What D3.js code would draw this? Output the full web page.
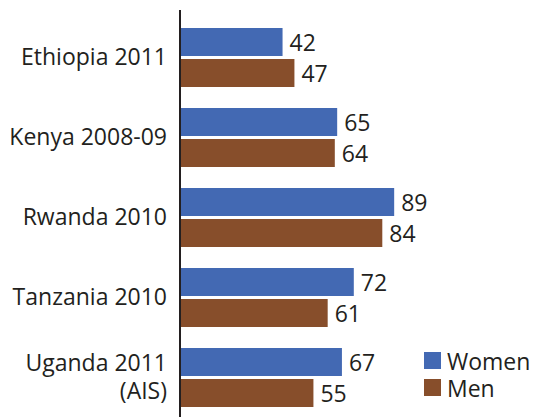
<!DOCTYPE html>
<html><head><meta charset="utf-8">
<script src="https://cdn.jsdelivr.net/npm/d3@7"></script>
<style>body{margin:0;background:#fff}svg{display:block}</style>
</head><body>
<script>
const categories = [["Ethiopia 2011"],["Kenya 2008-09"],["Rwanda 2010"],["Tanzania 2010"],["Uganda 2011","(AIS)"]];
const women = [42, 65, 89, 72, 67];
const men = [47, 64, 84, 61, 55];
const seriesNames = ["Women", "Men"];
const colors = ["#4369b3", "#874e2b"];

const W = 536, H = 417;
const svg = d3.select("body").append("svg").attr("width", W).attr("height", H);
const font = "'Open Sans', sans-serif";
const fs = 23;

const x = d3.scaleLinear().domain([0, 100]).range([182.8, 420.3]);
const y = d3.scaleBand().domain(d3.range(categories.length)).range([26, 426]).paddingInner(0).paddingOuter(0);
const barH = 28, gap = 3, x0 = 181;

const series = [women, men];
series.forEach((vals, s) => {
  svg.selectAll(".bar" + s).data(vals).enter().append("rect")
    .attr("x", x0)
    .attr("y", (d, i) => y(i) + 2 + s * (barH + gap))
    .attr("width", d => x(d) - x0)
    .attr("height", barH)
    .attr("fill", colors[s]);
  svg.selectAll(".lab" + s).data(vals).enter().append("text")
    .attr("x", d => x(d) + 7)
    .attr("y", (d, i) => y(i) + 2 + s * (barH + gap) + barH / 2 + 8.5)
    .attr("font-family", font).attr("font-size", fs).attr("fill", "#231f20")
    .text(d => d);
});

categories.forEach((lines, i) => {
  const cy = y(i) + 2 + barH + gap / 2;
  const t = svg.append("text").attr("text-anchor", "end")
    .attr("font-family", font).attr("font-size", fs).attr("fill", "#231f20");
  const n = lines.length;
  lines.forEach((l, k) => {
    t.append("tspan").attr("x", 167).attr("y", cy + 7 + (k - (n - 1) / 2) * 28).text(l);
  });
});

svg.append("line").attr("x1", 180).attr("x2", 180).attr("y1", 10).attr("y2", H)
  .attr("stroke", "#231f20").attr("stroke-width", 2);

const lg = svg.append("g");
seriesNames.forEach((n, i) => {
  lg.append("rect").attr("x", 424).attr("y", 352 + i * 27).attr("width", 17).attr("height", 17).attr("fill", colors[i]);
  lg.append("text").attr("x", 447).attr("y", 370 + i * 27).attr("font-family", font).attr("font-size", fs).attr("fill", "#231f20").text(n);
});
</script>
</body></html>
